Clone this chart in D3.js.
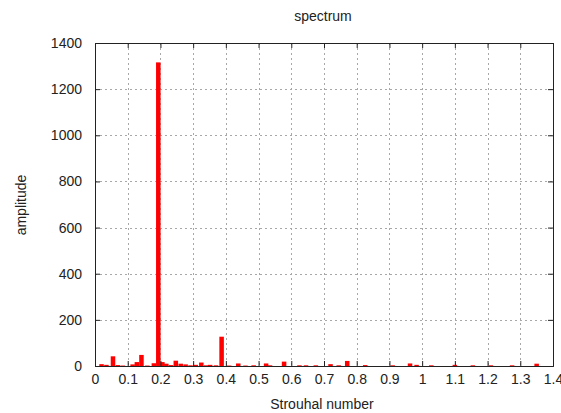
<!DOCTYPE html>
<html>
<head>
<meta charset="utf-8">
<script src="https://cdn.jsdelivr.net/npm/d3@7"></script>
<style>
  body { margin: 0; background: #fff; }
  text { font-family: "Liberation Sans", Arial, sans-serif; font-size: 14px; fill: #222; }
</style>
</head>
<body>
<svg id="chart" width="561" height="413"></svg>
<script>
// Strouhal number of each bar and its amplitude
const strouhal = [0.020, 0.035, 0.055, 0.070, 0.085, 0.115, 0.128, 0.142, 0.160, 0.180,
  0.1935, 0.206, 0.218, 0.232, 0.247, 0.262, 0.277, 0.292, 0.308, 0.325,
  0.340, 0.352, 0.370, 0.387, 0.410, 0.438, 0.460, 0.485, 0.523, 0.535,
  0.578, 0.625, 0.645, 0.675, 0.720, 0.745, 0.771, 0.826, 0.910, 0.963,
  0.983, 1.028, 1.100, 1.155, 1.210, 1.275, 1.350];
const amplitude = [8, 5, 42, 4, 2, 7, 17, 48, 2, 12,
  1316, 17, 10, 4, 23, 10, 7, 3, 5, 15,
  3, 5, 3, 127, 2, 11, 2, 3, 11, 3,
  19, 3, 3, 3, 8, 3, 22, 4, 3, 11,
  5, 3, 5, 3, 3, 3, 10];
const xTicks = [0, 0.1, 0.2, 0.3, 0.4, 0.5, 0.6, 0.7, 0.8, 0.9, 1, 1.1, 1.2, 1.3, 1.4];
const yTicks = [0, 200, 400, 600, 800, 1000, 1200, 1400];

const svg = d3.select("#chart");
const plotL = 95, plotR = 553, plotT = 43, plotB = 366;
const x = d3.scaleLinear().domain([0, 1.4]).range([plotL, plotR]);
const y = d3.scaleLinear().domain([0, 1400]).range([plotB, plotT]);
const barW = x(0.0138) - x(0);

// grid
const grid = svg.append("g").attr("stroke", "#a8a8a8").attr("stroke-dasharray", "2,3").attr("stroke-width", 1);
grid.selectAll(".gx").data(xTicks.slice(1, -1)).enter().append("line")
  .attr("x1", d => Math.round(x(d)) + 0.5).attr("x2", d => Math.round(x(d)) + 0.5)
  .attr("y1", plotT).attr("y2", plotB);
grid.selectAll(".gy").data(yTicks.slice(1, -1)).enter().append("line")
  .attr("x1", plotL).attr("x2", plotR)
  .attr("y1", d => Math.round(y(d)) + 0.5).attr("y2", d => Math.round(y(d)) + 0.5);

// bars
svg.append("g").selectAll("rect").data(strouhal).enter().append("rect")
  .attr("x", d => x(d) - barW / 2)
  .attr("width", barW)
  .attr("y", (d, i) => y(amplitude[i]))
  .attr("height", (d, i) => plotB - y(amplitude[i]))
  .attr("fill", "#ff0000");

// axes with inward ticks, mirrored
const tk = 5;
svg.append("g").attr("transform", "translate(0," + plotB + ")")
  .call(d3.axisBottom(x).tickValues(xTicks).tickSize(-tk).tickPadding(8).tickFormat(d3.format("")));
svg.append("g").attr("transform", "translate(0," + plotT + ")")
  .call(d3.axisTop(x).tickValues(xTicks).tickSize(-tk).tickFormat(""));
svg.append("g").attr("transform", "translate(" + plotL + ",0)")
  .call(d3.axisLeft(y).tickValues(yTicks).tickSize(-tk).tickPadding(13).tickFormat(d3.format("d")));
svg.append("g").attr("transform", "translate(" + plotR + ",0)")
  .call(d3.axisRight(y).tickValues(yTicks).tickSize(-tk).tickFormat(""));
svg.selectAll(".domain").attr("stroke", "#222");
svg.selectAll(".tick line").attr("stroke", "#222");
svg.selectAll(".tick text").attr("font-family", "Liberation Sans, Arial, sans-serif").attr("font-size", 14).attr("fill", "#222");

// titles
svg.append("text").attr("x", 323).attr("y", 21).attr("text-anchor", "middle").text("spectrum");
svg.append("text").attr("x", 322).attr("y", 409).attr("text-anchor", "middle").text("Strouhal number");
svg.append("text").attr("transform", "translate(26,205) rotate(-90)").attr("text-anchor", "middle").text("amplitude");
</script>
</body>
</html>
